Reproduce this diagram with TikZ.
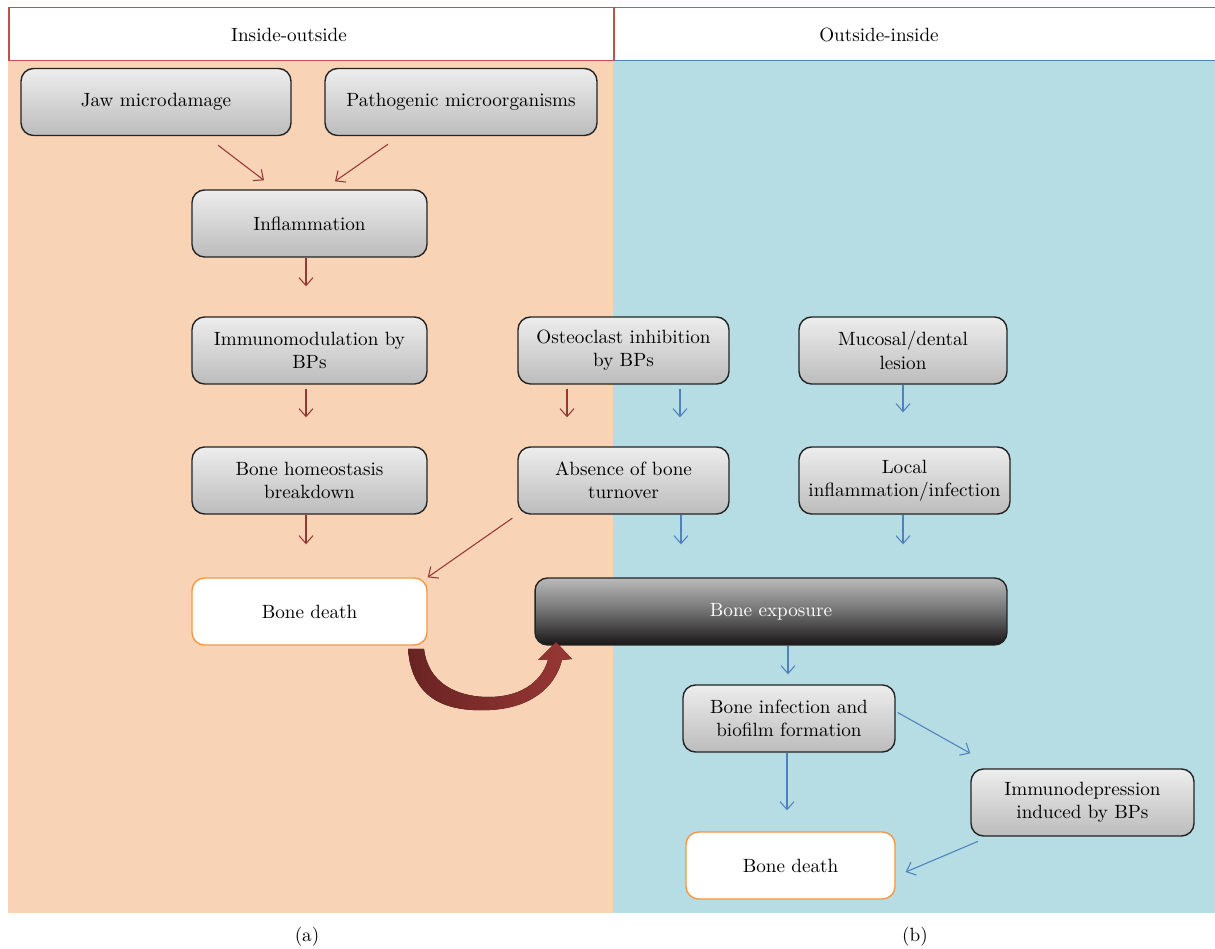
\documentclass[tikz,border=0pt]{standalone}
\usepackage{tikz}
\usetikzlibrary{arrows.meta,calc}
\definecolor{leftbg}{RGB}{249,211,181}
\definecolor{rightbg}{RGB}{182,220,228}
\definecolor{hdrred}{RGB}{192,80,77}
\definecolor{hdrblue}{RGB}{79,129,189}
\definecolor{arrred}{RGB}{149,55,53}
\definecolor{arrblue}{RGB}{79,129,189}
\definecolor{boxtop}{RGB}{237,237,237}
\definecolor{boxbot}{RGB}{188,188,188}
\definecolor{boxline}{RGB}{35,35,35}
\definecolor{deathline}{RGB}{247,150,70}
\definecolor{exptop}{RGB}{186,186,186}
\definecolor{expbot}{RGB}{24,22,22}
\definecolor{curvdark}{RGB}{105,35,35}
\definecolor{curvred}{RGB}{152,56,53}
\newcommand{\flowfont}{\fontsize{10.9}{13.3}\selectfont}
\tikzset{
  box/.style={draw=boxline, line width=0.8pt, rounded corners=0.25cm,
    top color=boxtop, bottom color=boxbot, align=center,
    minimum height=1.34cm, inner sep=1pt, font=\flowfont, text=black},
  deathbox/.style={box, draw=deathline, top color=white, bottom color=white},
  expbox/.style={box, top color=exptop, bottom color=expbot, middle color=exptop!55!expbot, text=white},
  redarr/.style={draw=arrred, line width=0.6pt, ->},
  bluearr/.style={draw=arrblue, line width=0.6pt, ->},
  >={Straight Barb[length=4.5pt,width=8pt]},
}

\begin{document}
\begin{tikzpicture}[x=0.02cm,y=-0.02cm]
      \useasboundingbox (0,0) rectangle (1215,949);

      % two panels
      \fill[leftbg] (8,61) rectangle (613,913);
      \fill[rightbg] (613,61) rectangle (1215,913);

      \fill[white] (614,7.5) rectangle (1215,60.5);
      \draw[hdrblue,line width=0.8pt] (614,7.5) -- (1215,7.5);
      \draw[hdrblue,line width=0.8pt] (614,60.5) -- (1215,60.5);
      \draw[hdrred,line width=0.8pt,fill=white] (9,7.5) rectangle (614,60.5);
      \node[font=\flowfont] (hdra) at (289,35) {Inside-outside};
      \node[font=\flowfont] (hdrb) at (879,35) {Outside-inside};

      % left column
      \node[box,minimum width=5.4cm] (jaw) at (156,102) {Jaw microdamage};
      \node[box,minimum width=5.44cm] (patho) at (461,102) {Pathogenic microorganisms};
      \node[box,minimum width=4.7cm] (infl) at (309.5,223.5) {Inflammation};
      \node[box,minimum width=4.7cm] (immuno) at (309.5,350.5) {Immunomodulation by\\BPs};
      \node[box,minimum width=4.7cm] (homeo) at (309.5,480.5) {Bone homeostasis\\breakdown};
      \node[deathbox,minimum width=4.7cm] (deatha) at (309.5,611.5) {Bone death};

      % middle and right column
      \node[box,minimum width=4.22cm] (osteo) at (623.5,350.5) {Osteoclast inhibition\\by BPs};
      \node[box,minimum width=4.22cm] (absence) at (623.5,480.5) {Absence of bone\\turnover};
      \node[box,minimum width=4.16cm] (mucosal) at (903,350.5) {Mucosal/dental\\lesion};
      \node[box,minimum width=4.22cm] (local) at (904.5,480.5) {Local\\inflammation/infection};
      \node[expbox,minimum width=9.44cm] (exposure) at (771,611.5) {Bone exposure};
      \node[box,minimum width=4.24cm] (biofilm) at (789,718.5) {Bone infection and\\biofilm formation};
      \node[box,minimum width=4.46cm] (immunodep) at (1082.5,802.5) {Immunodepression\\induced by BPs};
      \node[deathbox,minimum width=4.18cm] (deathb) at (790.5,865.5) {Bone death};

      \draw[redarr] ($(jaw.south)+(62,9)$) -- ($(infl.north)+(-45.5,-9)$);
      \draw[redarr] ($(patho.south)+(-73,8)$) -- ($(infl.north)+(25.5,-8)$);
      \draw[redarr,shorten >=0.6cm] ([xshift=-0.07cm]infl.south) -- ([xshift=-0.07cm]immuno.north);
      \draw[redarr,shorten <=0.08cm,shorten >=0.58cm] ([xshift=-0.07cm]immuno.south) -- ([xshift=-0.07cm]homeo.north);
      \draw[redarr,shorten >=0.66cm] ([xshift=-0.07cm]homeo.south) -- ([xshift=-0.07cm]deatha.north);
      \draw[redarr,shorten <=0.08cm,shorten >=0.58cm] ([xshift=-1.13cm]osteo.south) -- ([xshift=-1.13cm]absence.north);
      \draw[redarr,shorten <=0.12cm] (absence.south west) -- (deatha.north east);

      \draw[bluearr,shorten <=0.08cm,shorten >=0.58cm] ([xshift=1.13cm]osteo.south) -- ([xshift=1.13cm]absence.north);
      \draw[bluearr,shorten >=0.68cm] (mucosal.south) -- (mucosal.south |- local.north);
      \draw[bluearr,shorten >=0.66cm] ([xshift=1.15cm]absence.south) -- ([xshift=1.15cm]absence.south |- exposure.north);
      \draw[bluearr,shorten >=0.66cm] ([xshift=-0.03cm]local.south) -- ([xshift=-0.03cm]local.south |- exposure.north);
      \draw[bluearr,shorten >=0.2cm] ([xshift=-0.02cm]biofilm.north |- exposure.south) -- ([xshift=-0.02cm]biofilm.north);
      \draw[bluearr] ($(biofilm.east)+(2,-6)$) -- ($(immunodep.north west)+(0,-15)$);
      \draw[bluearr,shorten >=0.42cm] ([xshift=-0.04cm]biofilm.south) -- ([xshift=-0.04cm]biofilm.south |- deathb.north);
      \draw[bluearr] ($(immunodep.south west)+(7.6,4.7)$) -- ($(deathb.east)+(10,6.5)$);

      % curved arrow from the bone death to the exposure
      \fill[left color=curvdark,right color=curvred]
        (408,649) .. controls (412,702) and (450,712) .. (490,710)
        .. controls (530,708) and (555,688) .. (562,660)
        -- (572,659) -- (556,642) -- (538,660) -- (548,660)
        .. controls (541,684) and (518,697) .. (489,697)
        .. controls (455,697) and (428,682) .. (424,649) -- cycle;

      \node[font=\flowfont] (capa) at (307,937) {(a)};
      \node[font=\flowfont] (capb) at (915,937) {(b)};
\end{tikzpicture}
\end{document}
